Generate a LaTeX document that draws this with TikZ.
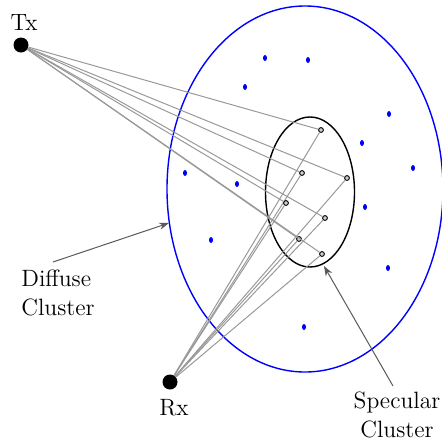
\documentclass[tikz,border=0pt]{standalone}
\usetikzlibrary{arrows.meta, positioning}

\begin{document}
\begin{tikzpicture}[
    x=0.5pt, y=-0.5pt,
    >=Stealth,
    term/.style={circle, fill=black, inner sep=0pt, minimum size=7.5pt},
    spec/.style={circle, draw=black, fill=gray!40, inner sep=0pt,
                 minimum size=2.4pt, line width=0.45pt},
    ray/.style={gray!80, line width=0.5pt},
    pointer/.style={->, black!65, line width=0.5pt,
                    -{Stealth[length=5pt, width=3.6pt]}},
    lbl/.style={font=\fontsize{11.8}{14.5}\selectfont}
  ]
  \useasboundingbox (0,0) rectangle (441,445);

  % Diffuse cluster
  \draw[blue, line width=0.7pt] (305,189) ellipse [x radius=138, y radius=183];
  \foreach \x/\y in {
    265/58, 308/60, 245/87, 389/114, 362/143, 413/168,
    185/173, 237/184, 365/207, 211/240, 388/268, 304/327} {
    \fill[blue] (\x,\y) ellipse [x radius=2, y radius=3];
  }

  % Specular cluster
  \draw[black, line width=0.7pt] (310,192) ellipse [x radius=44.5, y radius=75];

  % Terminals
  \node[term] (tx) at (21,45) {};
  \node[term] (rx) at (170,382) {};
  \node[lbl, anchor=base] (txlbl) at (24,30) {Tx};
  \node[lbl, anchor=base] (rxlbl) at (174,415) {Rx};

  % Specular paths
  \foreach \i/\x/\y in {
    1/321/130,
    2/302/173,
    3/347/178,
    4/286/203,
    5/325/218,
    6/299/239,
    7/322/254} {
    \node[spec] (s\i) at (\x,\y) {};
    \draw[ray] (tx) -- (s\i);
    \draw[ray] (rx) -- (s\i);
  }

  % Labels
  \node[lbl, align=left] (difflbl) at (58,293) {Diffuse\\Cluster};
  \coordinate (difftail) at (53,262);
  \coordinate (difftip) at (169,223);
  \draw[pointer] (difftail) -- (difftip);

  \node[lbl, align=center] (speclbl) at (397,415) {Specular\\Cluster};
  \coordinate (spectail) at (393,386);
  \coordinate (spectip) at (324,266);
  \draw[pointer] (spectail) -- (spectip);
\end{tikzpicture}
\end{document}
